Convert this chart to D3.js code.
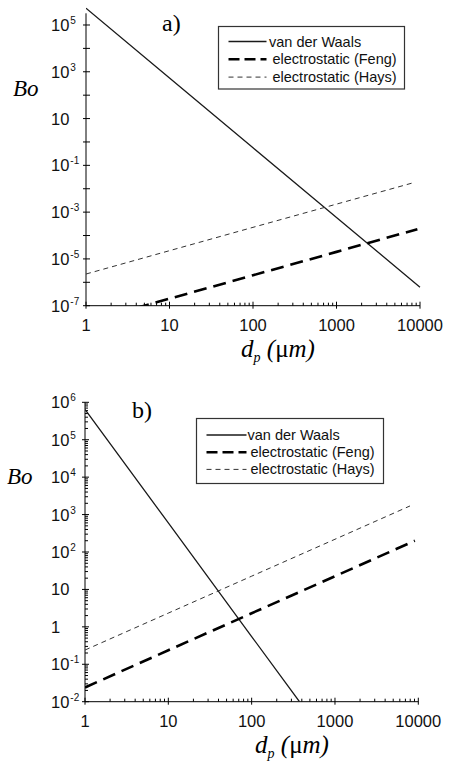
<!DOCTYPE html>
<html>
<head>
<meta charset="utf-8">
<script src="https://cdn.jsdelivr.net/npm/d3@7"></script>
<style>
  body { margin: 0; background: #fff; }
  svg { display: block; }
</style>
</head>
<body>
<svg id="chart" width="453" height="764"></svg>
<script>
// particle diameter ticks (um)
var xTickValues = [1, 10, 100, 1000, 10000];

// panel a) labelled exponents on the Bo axis
var yLabelExpA = [5, 3, 1, -1, -3, -5, -7];
// panel b)
var yLabelExpB = [6, 5, 4, 3, 2, 1, 0, -1, -2];

var seriesNames = ["van der Waals", "electrostatic (Feng)", "electrostatic (Hays)"];

// panel a) values
var dpVdwA = [1, 10, 100, 1000, 10000];
var boVdwA = [5.2e5, 540, 0.56, 5.9e-4, 6.2e-7];
var dpFengA = [4, 10, 100, 1000, 9300];
var boFengA = [8e-8, 2.0e-7, 2.0e-6, 2.0e-5, 1.87e-4];
var dpHaysA = [1, 10, 100, 1000, 8300];
var boHaysA = [2.26e-6, 2.25e-5, 2.24e-4, 2.2e-3, 0.018];

// panel b)
var dpVdwB = [1, 10, 100, 375];
var boVdwB = [6.5e5, 597, 0.55, 0.01];
var dpFengB = [1, 10, 100, 1000, 9100];
var boFengB = [0.024, 0.237, 2.31, 22.5, 200];
var dpHaysB = [1, 10, 100, 1000, 7950];
var boHaysB = [0.24, 2.33, 22.6, 219, 1700];

var svg = d3.select("#chart");

function zip(xs, ys) {
  return xs.map(function(x, i) { return [x, ys[i]]; });
}

var styles = [
  { color: "#1a1a1a", width: 1.3, dash: null },
  { color: "#000", width: 2.6, dash: "13,7" },
  { color: "#333", width: 1, dash: "5,4" }
];

function drawPanel(p) {
  var x = d3.scaleLog().domain([1, 10000]).range(p.xRange);
  var y = d3.scaleLog().domain(p.yDomain).range(p.yRange);
  var g = svg.append("g");
  var x0 = p.xRange[0], x1 = p.xRange[1], yb = p.yRange[0], yt = p.yRange[1];

  g.append("clipPath").attr("id", "clip" + p.id)
    .append("rect").attr("x", x0).attr("y", yt - 20)
    .attr("width", x1 - x0 + 2).attr("height", yb - yt + 20);

  // axes
  g.append("line").attr("x1", x0).attr("x2", x1).attr("y1", yb).attr("y2", yb)
    .attr("stroke", "#000").attr("stroke-width", 1);
  g.append("line").attr("x1", x0).attr("x2", x0).attr("y1", yb).attr("y2", yt)
    .attr("stroke", "#000").attr("stroke-width", 1);

  x.ticks().forEach(function(t) {
    var major = Math.abs(Math.log10(t) - Math.round(Math.log10(t))) < 1e-9;
    g.append("line").attr("x1", x(t)).attr("x2", x(t))
      .attr("y1", major ? yb + 3 : yb).attr("y2", major ? yb - 4 : yb - 3)
      .attr("stroke", "#000").attr("stroke-width", 1);
  });
  y.ticks().forEach(function(t) {
    var major = Math.abs(Math.log10(t) - Math.round(Math.log10(t))) < 1e-9;
    g.append("line").attr("y1", y(t)).attr("y2", y(t))
      .attr("x1", major ? x0 - 3 : x0).attr("x2", major ? x0 + 4 : x0 + 3)
      .attr("stroke", "#000").attr("stroke-width", 1);
  });

  // x tick labels
  g.selectAll(".xl").data(xTickValues).enter().append("text")
    .attr("x", function(d) { return x(d); })
    .attr("y", yb + 25)
    .attr("text-anchor", "middle")
    .attr("font-family", "Liberation Sans, Arial, sans-serif")
    .attr("font-size", "16.5px")
    .attr("fill", "#111")
    .text(function(d) { return d; });

  // y tick labels
  p.yLabels.forEach(function(e) {
    var t = g.append("text")
      .attr("x", 51).attr("y", y(Math.pow(10, e)) + 6)
      .attr("font-family", "Liberation Sans, Arial, sans-serif")
      .attr("font-size", "16.5px")
      .attr("fill", "#111");
    if (e === 0) { t.text("1"); }
    else if (e === 1) { t.text("10"); }
    else {
      t.append("tspan").text("10");
      t.append("tspan").attr("font-size", "10px").attr("dy", -7).attr("dx", 1).text(e);
    }
  });

  // lines
  var line = d3.line().x(function(d) { return x(d[0]); }).y(function(d) { return y(d[1]); });
  var lg = g.append("g").attr("clip-path", "url(#clip" + p.id + ")");
  p.series.forEach(function(s, i) {
    lg.append("path").attr("d", line(s))
      .attr("fill", "none")
      .attr("stroke", styles[i].color)
      .attr("stroke-width", styles[i].width)
      .attr("stroke-dasharray", styles[i].dash);
  });

  // panel letter
  g.append("text").attr("x", p.letterPos[0]).attr("y", p.letterPos[1])
    .attr("font-family", "Liberation Serif, Times New Roman, serif")
    .attr("font-size", "24px").text(p.letter);

  // Bo label
  g.append("text").attr("x", p.boPos[0]).attr("y", p.boPos[1])
    .attr("font-family", "Liberation Serif, Times New Roman, serif")
    .attr("font-style", "italic")
    .attr("font-size", "23px").text("Bo");

  // x label
  var xl = g.append("text").attr("x", p.xlabPos[0]).attr("y", p.xlabPos[1])
    .attr("text-anchor", "middle")
    .attr("font-family", "Liberation Serif, Times New Roman, serif")
    .attr("font-style", "italic")
    .attr("font-size", "25px");
  xl.append("tspan").text("d");
  xl.append("tspan").attr("font-size", "14px").attr("dy", 5).text("p");
  xl.append("tspan").attr("dy", -5).text(" (");
  xl.append("tspan").attr("font-style", "normal").text("μ");
  xl.append("tspan").text("m)");

  // legend
  var L = p.legend;
  g.append("rect").attr("x", L.x).attr("y", L.y).attr("width", L.w).attr("height", L.h)
    .attr("fill", "#fff").attr("stroke", "#333").attr("stroke-width", 1.2);
  seriesNames.forEach(function(name, i) {
    var ry = L.y + L.row0 + i * L.step;
    g.append("line").attr("x1", L.x + L.lx0).attr("x2", L.x + L.lx1)
      .attr("y1", ry).attr("y2", ry)
      .attr("stroke", styles[i].color)
      .attr("stroke-width", styles[i].width)
      .attr("stroke-dasharray", i === 1 ? "11,5" : styles[i].dash);
    g.append("text").attr("x", L.x + (i === 0 ? L.tx0 : L.tx1)).attr("y", ry + 5)
      .attr("font-family", "Liberation Sans, Arial, sans-serif")
      .attr("font-size", "14.5px").attr("fill", "#111")
      .text(name);
  });
}

drawPanel({
  id: "a",
  xRange: [86, 420],
  yDomain: [1e-7, Math.pow(10, 5.5)],
  yRange: [305.7, 13.3],
  yLabels: yLabelExpA,
  series: [zip(dpVdwA, boVdwA), zip(dpFengA, boFengA), zip(dpHaysA, boHaysA)],
  letter: "a)", letterPos: [162, 31],
  boPos: [13, 96],
  xlabPos: [278, 357],
  legend: { x: 218.5, y: 26.5, w: 186, h: 62.5, row0: 15, step: 17.8, lx0: 10, lx1: 48, tx0: 50.5, tx1: 54 }
});

drawPanel({
  id: "b",
  xRange: [85, 418.3],
  yDomain: [1e-2, 1e6],
  yRange: [701.7, 402.3],
  yLabels: yLabelExpB,
  series: [zip(dpVdwB, boVdwB), zip(dpFengB, boFengB), zip(dpHaysB, boHaysB)],
  letter: "b)", letterPos: [132, 418],
  boPos: [7, 484],
  xlabPos: [292, 753],
  legend: { x: 196.5, y: 418.5, w: 187, h: 65, row0: 16.5, step: 17.2, lx0: 10, lx1: 50, tx0: 51, tx1: 54 }
});
</script>
</body>
</html>
